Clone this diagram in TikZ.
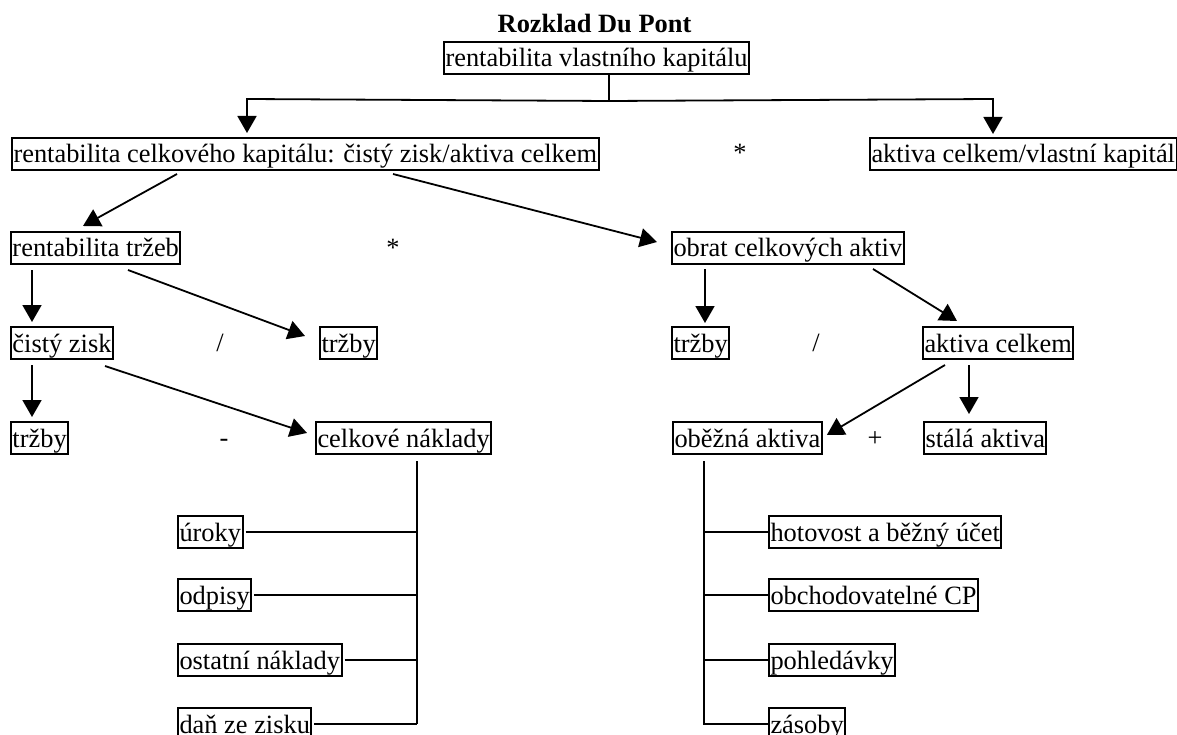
\documentclass[tikz,border=0pt]{standalone}
\usepackage{fontspec}
\setmainfont{Liberation Serif}
\usetikzlibrary{arrows.meta,calc}
\begin{document}
\begin{tikzpicture}[x=1pt,y=1pt,
  every node/.style={font=\fontsize{26.4}{30}\selectfont},
  cell/.style={draw, line width=2pt, inner xsep=1.5pt, inner ysep=0.5pt,
    text height=24.5pt, text depth=6.5pt, anchor=north west},
  opsign/.style={inner sep=0pt, text height=24.5pt, text depth=6.5pt},
  wire/.style={line width=1.8pt},
  arr/.style={line width=1.8pt, -{Triangle[length=17pt,width=19pt]}}]
\useasboundingbox (0,0) rectangle (1177,-735);

% title
\node[anchor=base] (title) at (594.5,-33) {\bfseries Rozklad Du Pont};

% level 1 and 2
\node[cell] (b1) at (443,-41) {rentabilita vlastního kapitálu};
\node[cell] (b2) at (11,-137) {rentabilita celkového kapitálu: čistý zisk/aktiva celkem};
\node[cell] (b3) at (869,-137) {aktiva celkem/vlastní kapitál};
\node[opsign] (m1) at (740,-153) {*};

% level 3
\node[cell] (b4) at (10,-231) {rentabilita tržeb};
\node[cell] (b5) at (671,-231) {obrat celkových aktiv};
\node[opsign] (m2) at (393,-247) {*};

% level 4
\node[cell] (b6) at (10,-326) {čistý zisk};
\node[cell] (b7) at (319,-326) {tržby};
\node[cell] (b8) at (671,-326) {tržby};
\node[cell] (b9) at (922,-326) {aktiva celkem};
\node[opsign] (d1s) at (220,-342) {/};
\node[opsign] (d2s) at (816,-342) {/};

% level 5
\node[cell] (b10) at (10,-421) {tržby};
\node[cell] (b11) at (315,-421) {celkové náklady};
\node[cell] (b12) at (672,-421) {oběžná aktiva};
\node[cell] (b13) at (923,-421) {stálá aktiva};
\node[opsign] (minus) at (224,-437.5) {-};
\node[opsign] (plus) at (875,-437.5) {+};

% cost items
\node[cell] (c1) at (177,-515) {úroky};
\node[cell] (c2) at (177,-578) {odpisy};
\node[cell] (c3) at (177,-643) {ostatní náklady};
\node[cell] (c4) at (177,-707) {daň ze zisku};

% current asset items
\node[cell] (e1) at (768,-515) {hotovost a běžný účet};
\node[cell] (e2) at (768,-578) {obchodovatelné CP};
\node[cell] (e3) at (768,-643) {pohledávky};
\node[cell] (e4) at (768,-707) {zásoby};

% split below the top box
\coordinate (top) at ($(b1.south west)+(166,0)$);
\coordinate (split) at ($(b1.south west)+(166,-26)$);
\coordinate (sL) at (247,-99);
\coordinate (sR) at (993,-99);
\draw[wire] (top) -- (split);
\draw[arr] (split) -- (sL) -- ($(sL |- b2.north)+(0,4)$);
\draw[arr] (split) -- (sR) -- ($(sR |- b3.north)+(0,3)$);

% arrows between levels
\draw[arr] ($(b2.south west)+(166,-3)$) -- ($(b4.north west)+(73,5)$);
\draw[arr] ($(b2.south west)+(382,-3)$) -- ($(b5.north west)+(-14,-11)$);
\draw[arr] ($(b4.south west)+(22,-5)$) -- ($(b6.north west)+(22,4)$);
\draw[arr] ($(b4.south west)+(118,-5)$) -- ($(b7.north west)+(-14,-10)$);
\draw[arr] ($(b5.south west)+(34,-4)$) -- ($(b8.north west)+(34,3)$);
\draw[arr] ($(b5.south west)+(202,-4)$) -- ($(b9.north west)+(35,5)$);
\draw[arr] ($(b6.south west)+(22,-5)$) -- ($(b10.north west)+(22,4)$);
\draw[arr] ($(b6.south west)+(95,-6)$) -- ($(b11.north west)+(-8,-12)$);
\draw[arr] ($(b9.south west)+(23,-5)$) -- ($(b12.north east)+(4,-14)$);
\draw[arr] ($(b9.south west)+(47,-5)$) -- ($(b13.north west)+(46,7)$);

% cost breakdown
\coordinate (lt) at ($(b11.south west)+(102,-6)$);
\coordinate (lb) at (lt |- c4.east);
\draw[wire] (lt) -- (lb);
\foreach \n in {c1,c2,c3,c4}
  \draw[wire] ([xshift=2pt]\n.east) -- (\n.east -| lt);

% current asset breakdown
\coordinate (rt) at ($(b12.south west)+(32,-6)$);
\coordinate (rb) at (rt |- e4.west);
\draw[wire] (rt) -- (rb);
\foreach \n in {e1,e2,e3,e4}
  \draw[wire] ([xshift=-1pt]rt |- \n.west) -- (\n.west);
\end{tikzpicture}
\end{document}
